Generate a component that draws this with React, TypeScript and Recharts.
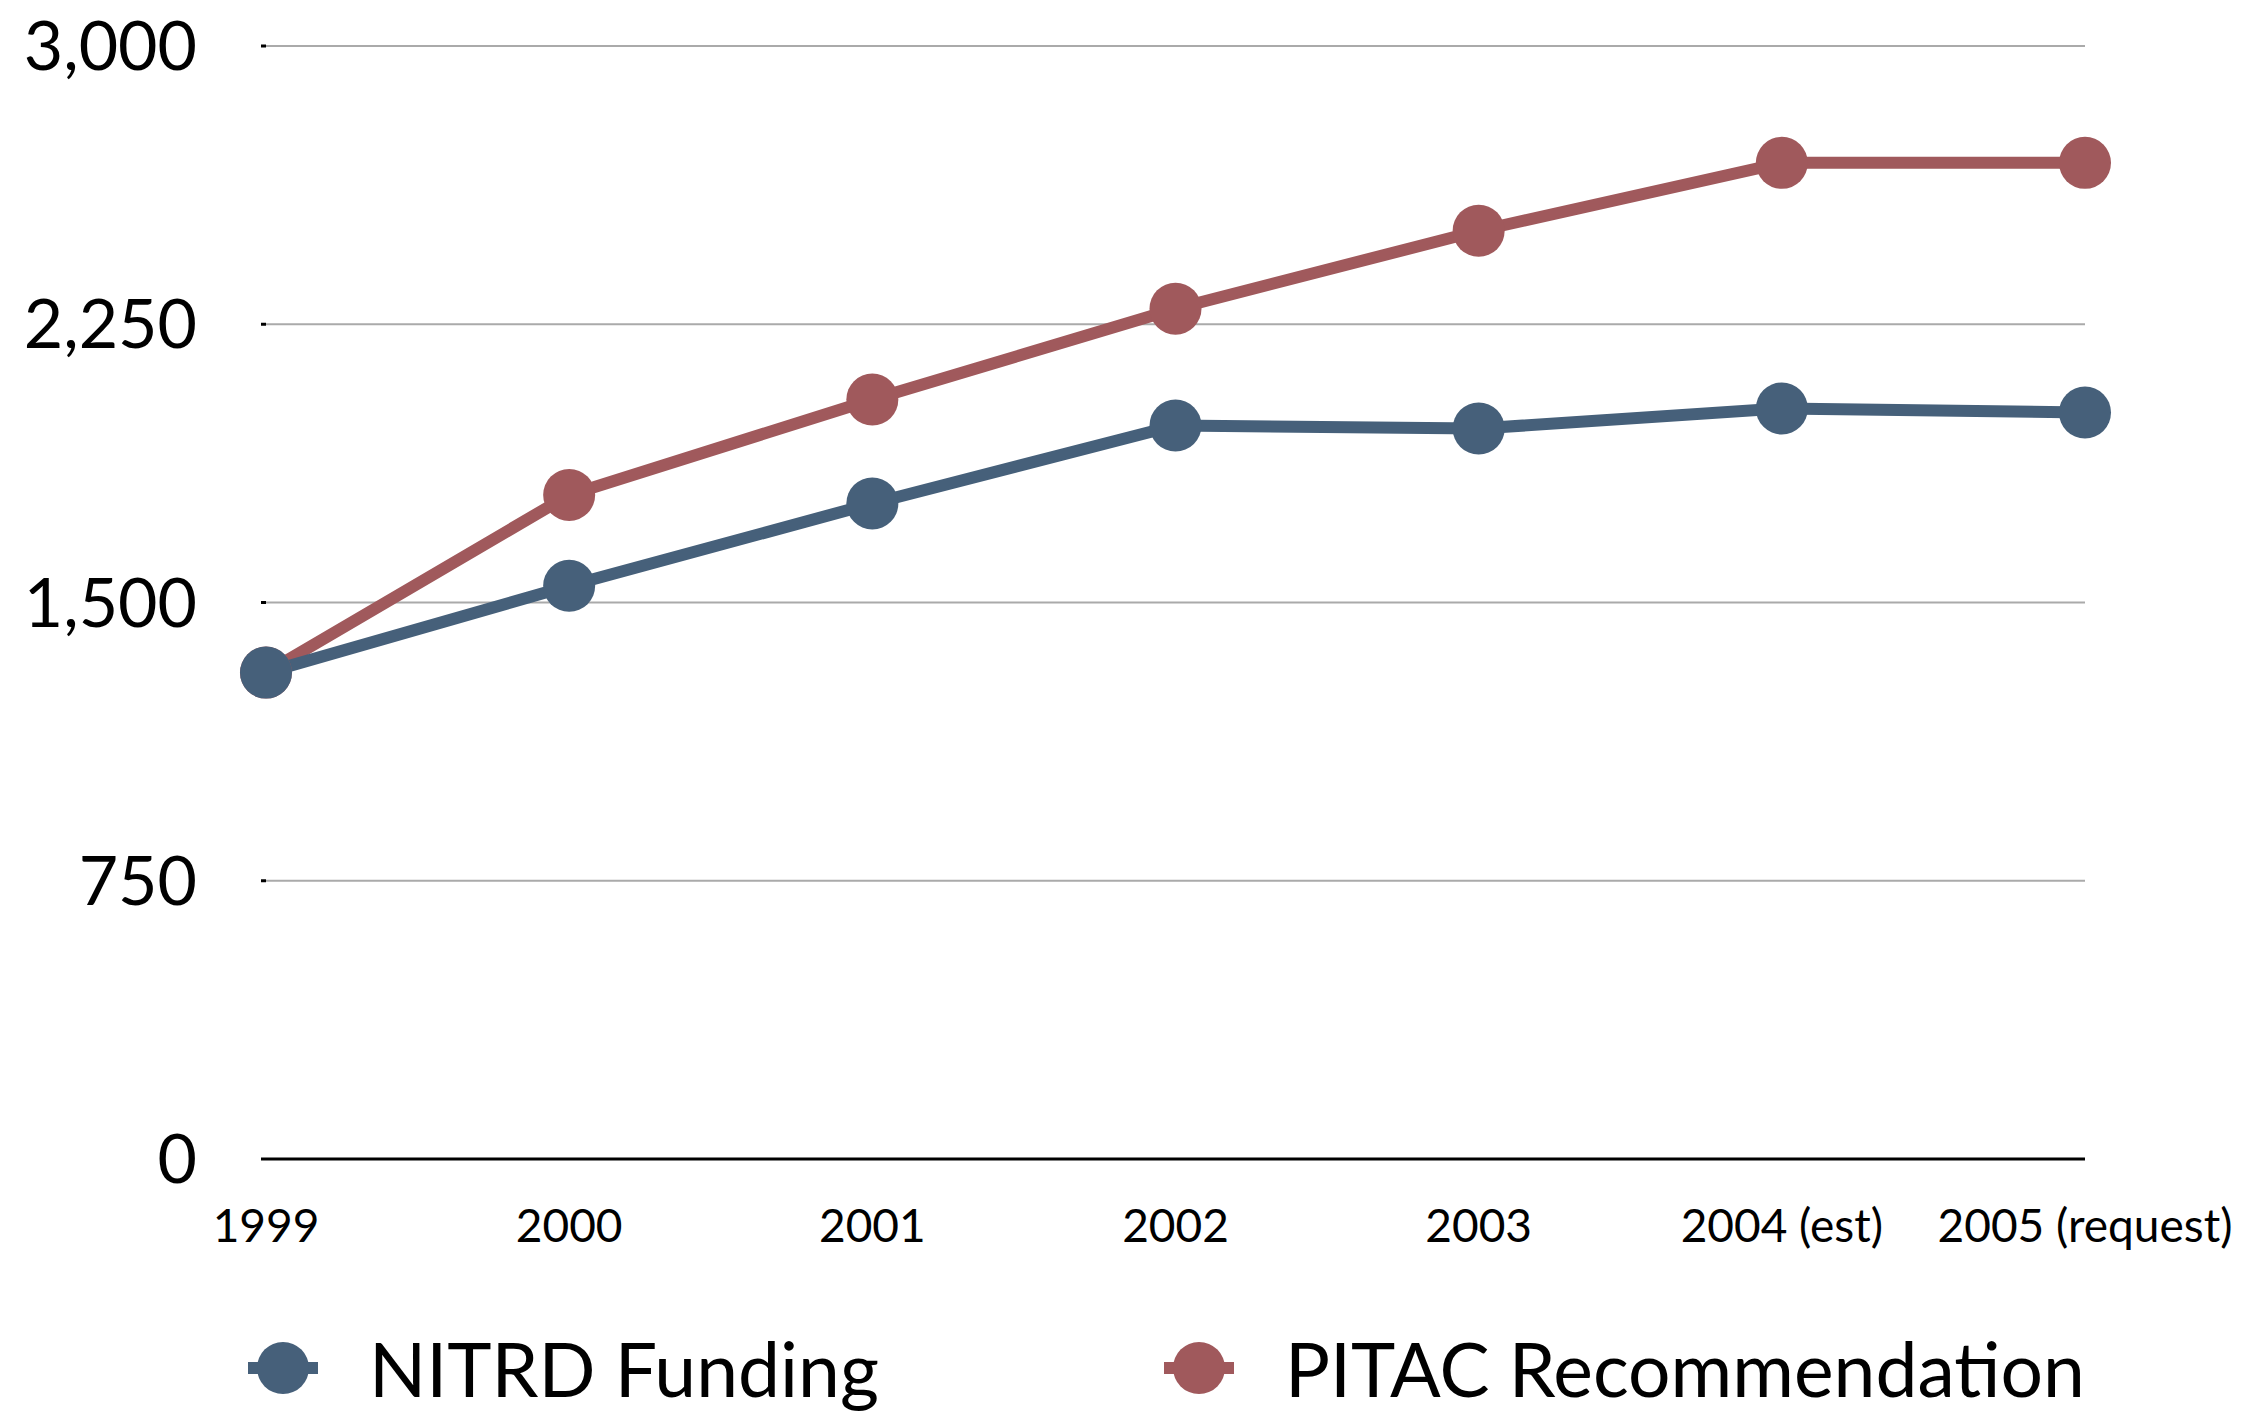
import { CartesianGrid, Legend, Line, LineChart, XAxis, YAxis } from "recharts"

const years = ["1999", "2000", "2001", "2002", "2003", "2004 (est)", "2005 (request)"]
const nitrdFunding = [1311, 1545, 1767, 1977, 1969, 2023, 2012]
const pitacRecommendation = [1311, 1790, 2047, 2292, 2502, 2685, 2685]
const yTicks = [0, 750, 1500, 2250, 3000]

const BLUE = "#46607A"
const RED = "#A0595C"
const FONT = "Lato, 'Open Sans', sans-serif"

const data = years.map((year, i) => ({
  year,
  nitrd: nitrdFunding[i],
  pitac: pitacRecommendation[i],
}))

const LegendMarker = ({ color }: { color: string }) => (
  <svg width={72} height={60} style={{ display: "block" }}>
    <line x1={1} y1={30} x2={71} y2={30} stroke={color} strokeWidth={12} />
    <circle cx={36} cy={30} r={26} fill={color} />
  </svg>
)

const ChartLegend = () => {
  const items = [
    { label: "NITRD Funding", color: BLUE, left: 247 },
    { label: "PITAC Recommendation", color: RED, left: 1163 },
  ]
  return (
    <div style={{ position: "relative", height: 88, fontFamily: FONT }}>
      {items.map((item) => (
        <div
          key={item.label}
          style={{
            position: "absolute",
            left: item.left,
            top: 0,
            height: 88,
            display: "flex",
            alignItems: "center",
          }}
        >
          <LegendMarker color={item.color} />
          <span
            style={{
              marginLeft: 50,
              fontSize: 75,
              color: "#000",
              lineHeight: 1,
              whiteSpace: "nowrap",
            }}
          >
            {item.label}
          </span>
        </div>
      ))}
    </div>
  )
}

const App = () => {
  return (
    <div style={{ position: "absolute", left: 0, top: 0, background: "#fff" }}>
      <LineChart
        width={2263}
        height={1412}
        data={data}
        margin={{ top: 46, right: 178, left: 0, bottom: 0 }}
      >
        <CartesianGrid
          horizontal={true}
          vertical={false}
          stroke='#AAAAAA'
          strokeWidth={2}
        />
        <XAxis
          dataKey='year'
          height={165}
          tickLine={false}
          tickSize={0}
          tickMargin={50}
          axisLine={{ stroke: "#000", strokeWidth: 3 }}
          tick={{ fontSize: 46, fill: "#000", fontFamily: FONT }}
          interval={0}
        />
        <YAxis
          width={266}
          domain={[0, 3000]}
          ticks={yTicks}
          axisLine={false}
          tickLine={{ stroke: "#000", strokeWidth: 3 }}
          tickSize={5}
          tickMargin={64}
          tickFormatter={(v) => Number(v).toLocaleString("en-US")}
          tick={{ fontSize: 68, fill: "#000", fontFamily: FONT }}
        />
        <Legend
          verticalAlign='bottom'
          height={88}
          wrapperStyle={{ left: 0, width: 2263 }}
          content={() => <ChartLegend />}
        />
        <Line
          type='linear'
          dataKey='pitac'
          name='PITAC Recommendation'
          stroke={RED}
          strokeWidth={12}
          dot={{ r: 26, fill: RED, stroke: "none" }}
          isAnimationActive={false}
        />
        <Line
          type='linear'
          dataKey='nitrd'
          name='NITRD Funding'
          stroke={BLUE}
          strokeWidth={12}
          dot={{ r: 26, fill: BLUE, stroke: "none" }}
          isAnimationActive={false}
        />
      </LineChart>
    </div>
  )
}

export default App
